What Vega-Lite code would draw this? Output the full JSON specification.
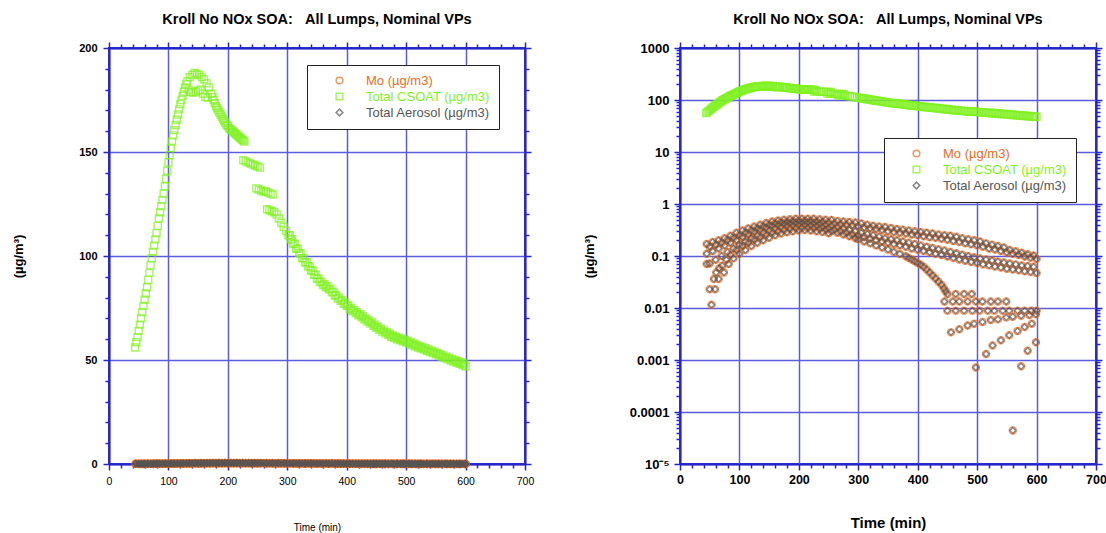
{
  "$schema": "https://vega.github.io/schema/vega-lite/v6.json",
  "background": "white",
  "padding": {"left": 11, "top": 10, "right": 0, "bottom": 0},
  "spacing": 47,
  "datasets": {
    "csoat": [
      {"t":44,"csoat":56},{"t":46,"csoat":58.5},{"t":48,"csoat":61},{"t":50,"csoat":64},{"t":52,"csoat":67},{"t":54,"csoat":70},{"t":56,"csoat":73},{"t":58,"csoat":76},{"t":60,"csoat":79},{"t":62,"csoat":82},{"t":64,"csoat":85},{"t":66,"csoat":88.5},{"t":68,"csoat":92},{"t":70,"csoat":95.5},{"t":72,"csoat":99},{"t":74,"csoat":102},{"t":76,"csoat":105},{"t":78,"csoat":108},{"t":80,"csoat":111},{"t":82,"csoat":114.5},{"t":84,"csoat":118},{"t":86,"csoat":121},{"t":88,"csoat":124},{"t":90,"csoat":127},{"t":92,"csoat":130},{"t":94,"csoat":133.5},{"t":96,"csoat":137},{"t":98,"csoat":141},{"t":100,"csoat":145},{"t":102,"csoat":148.5},{"t":104,"csoat":152},{"t":106,"csoat":155},{"t":108,"csoat":158},{"t":110,"csoat":160.5},{"t":112,"csoat":163},{"t":114,"csoat":165.5},{"t":116,"csoat":168},{"t":118,"csoat":170.5},{"t":120,"csoat":173},{"t":122,"csoat":175},{"t":124,"csoat":177},{"t":126,"csoat":179},{"t":128,"csoat":181},{"t":130,"csoat":182.5},{"t":132,"csoat":184},{"t":136,"csoat":186},{"t":140,"csoat":187},{"t":144,"csoat":188},{"t":148,"csoat":187.5},{"t":152,"csoat":187},{"t":156,"csoat":186},{"t":160,"csoat":185},{"t":164,"csoat":183},{"t":168,"csoat":181},
      {"t":134,"csoat":180},{"t":138,"csoat":179},{"t":142,"csoat":178.5},{"t":146,"csoat":179},{"t":150,"csoat":179.5},{"t":154,"csoat":180},{"t":158,"csoat":178},{"t":162,"csoat":176.5},{"t":166,"csoat":176},
      {"t":172,"csoat":178},{"t":174,"csoat":176.5},{"t":176,"csoat":175},{"t":178,"csoat":173.5},{"t":180,"csoat":172},{"t":182,"csoat":171},{"t":184,"csoat":170},{"t":186,"csoat":169},{"t":188,"csoat":168},{"t":190,"csoat":167},{"t":192,"csoat":166},{"t":194,"csoat":165},{"t":196,"csoat":164},{"t":198,"csoat":163},{"t":200,"csoat":162.5},{"t":202,"csoat":161.5},{"t":204,"csoat":161},{"t":206,"csoat":160.5},{"t":208,"csoat":160},{"t":210,"csoat":159.5},{"t":212,"csoat":159},{"t":214,"csoat":158.5},{"t":216,"csoat":158},{"t":218,"csoat":157.5},{"t":220,"csoat":157},{"t":222,"csoat":156.5},{"t":224,"csoat":156},{"t":226,"csoat":155.5},{"t":228,"csoat":155},
      {"t":226,"csoat":146},{"t":230,"csoat":145.5},{"t":234,"csoat":145},{"t":238,"csoat":144.5},{"t":242,"csoat":144},{"t":246,"csoat":143.5},{"t":250,"csoat":143},{"t":254,"csoat":142.5},
      {"t":248,"csoat":132.5},{"t":252,"csoat":132},{"t":256,"csoat":131.5},{"t":260,"csoat":131},{"t":264,"csoat":131},{"t":268,"csoat":130.5},{"t":272,"csoat":130},{"t":276,"csoat":129.5},
      {"t":266,"csoat":122.5},{"t":270,"csoat":122},{"t":274,"csoat":121.5},{"t":278,"csoat":121},{"t":282,"csoat":120},{"t":286,"csoat":118},{"t":290,"csoat":116},{"t":294,"csoat":114},{"t":298,"csoat":112},
      {"t":302,"csoat":110},{"t":306,"csoat":108},{"t":310,"csoat":106},{"t":315,"csoat":103.5},{"t":320,"csoat":101.5},{"t":325,"csoat":99},{"t":330,"csoat":97},{"t":335,"csoat":95},{"t":340,"csoat":93},{"t":345,"csoat":91},{"t":350,"csoat":89},{"t":355,"csoat":87.5},{"t":360,"csoat":86},{"t":365,"csoat":85},{"t":370,"csoat":84},{"t":375,"csoat":82.5},{"t":380,"csoat":81},{"t":385,"csoat":79.5},{"t":390,"csoat":78.5},{"t":395,"csoat":77},{"t":400,"csoat":76},{"t":405,"csoat":74.5},{"t":410,"csoat":73.5},{"t":415,"csoat":72.5},{"t":420,"csoat":71.5},{"t":425,"csoat":70.5},{"t":430,"csoat":69.5},{"t":435,"csoat":68.5},{"t":440,"csoat":67.5},{"t":445,"csoat":66.5},{"t":450,"csoat":65.5},{"t":455,"csoat":64.5},{"t":460,"csoat":63.5},{"t":465,"csoat":62.8},{"t":470,"csoat":62},{"t":475,"csoat":61.2},{"t":480,"csoat":60.5},{"t":485,"csoat":60},{"t":490,"csoat":59.5},{"t":495,"csoat":59},{"t":500,"csoat":58.5},{"t":505,"csoat":57.8},{"t":510,"csoat":57.2},{"t":515,"csoat":56.6},{"t":520,"csoat":56},{"t":525,"csoat":55.5},{"t":530,"csoat":55},{"t":535,"csoat":54.4},{"t":540,"csoat":53.8},{"t":545,"csoat":53.3},{"t":550,"csoat":52.8},{"t":555,"csoat":52.1},{"t":560,"csoat":51.5},{"t":565,"csoat":50.9},{"t":570,"csoat":50.3},{"t":575,"csoat":49.7},{"t":580,"csoat":49.2},{"t":585,"csoat":48.7},{"t":590,"csoat":48.2},{"t":595,"csoat":47.6},{"t":600,"csoat":47},
      {"t":304,"csoat":110},{"t":308,"csoat":108},{"t":312.5,"csoat":105.8},{"t":317.5,"csoat":103.5},{"t":322.5,"csoat":101.2},{"t":327.5,"csoat":99},{"t":332.5,"csoat":97},{"t":337.5,"csoat":95},{"t":342.5,"csoat":93},{"t":347.5,"csoat":91},{"t":352.5,"csoat":89.2},{"t":357.5,"csoat":87.7},{"t":362.5,"csoat":86.5},{"t":367.5,"csoat":85.5},{"t":372.5,"csoat":84.2},{"t":377.5,"csoat":82.8},{"t":382.5,"csoat":81.2},{"t":387.5,"csoat":80},{"t":392.5,"csoat":78.8},{"t":397.5,"csoat":77.5},{"t":402.5,"csoat":76.2},{"t":407.5,"csoat":75},{"t":412.5,"csoat":74},{"t":417.5,"csoat":73},{"t":422.5,"csoat":72},{"t":427.5,"csoat":71},{"t":432.5,"csoat":70},{"t":437.5,"csoat":69},{"t":442.5,"csoat":68},{"t":447.5,"csoat":67},{"t":452.5,"csoat":66},{"t":457.5,"csoat":65},{"t":462.5,"csoat":64.1},{"t":467.5,"csoat":63.4},{"t":472.5,"csoat":62.6},{"t":477.5,"csoat":61.8},{"t":482.5,"csoat":61.2},{"t":487.5,"csoat":60.7},{"t":492.5,"csoat":60.2},{"t":497.5,"csoat":59.7},{"t":502.5,"csoat":59.1},{"t":507.5,"csoat":58.5},{"t":512.5,"csoat":57.9},{"t":517.5,"csoat":57.3},{"t":522.5,"csoat":56.7},{"t":527.5,"csoat":56.2},{"t":532.5,"csoat":55.7},{"t":537.5,"csoat":55.1},{"t":542.5,"csoat":54.5},{"t":547.5,"csoat":54},{"t":552.5,"csoat":53.4},{"t":557.5,"csoat":52.8},{"t":562.5,"csoat":52.2},{"t":567.5,"csoat":51.6},{"t":572.5,"csoat":51},{"t":577.5,"csoat":50.4},{"t":582.5,"csoat":49.9},{"t":587.5,"csoat":49.4},{"t":592.5,"csoat":48.9},{"t":597.5,"csoat":48.3}
    ],
    "aero": [
      {"t":45,"mo":0.17,"aer":0.17},{"t":55,"mo":0.185,"aer":0.185},{"t":65,"mo":0.2,"aer":0.2},{"t":75,"mo":0.22,"aer":0.22},{"t":85,"mo":0.245,"aer":0.245},{"t":95,"mo":0.28,"aer":0.28},{"t":105,"mo":0.31,"aer":0.31},{"t":115,"mo":0.34,"aer":0.34},{"t":125,"mo":0.37,"aer":0.37},{"t":135,"mo":0.4,"aer":0.4},{"t":145,"mo":0.43,"aer":0.43},{"t":155,"mo":0.46,"aer":0.46},{"t":165,"mo":0.48,"aer":0.48},{"t":175,"mo":0.5,"aer":0.5},{"t":185,"mo":0.51,"aer":0.51},{"t":195,"mo":0.52,"aer":0.52},{"t":205,"mo":0.52,"aer":0.52},{"t":215,"mo":0.52,"aer":0.52},{"t":225,"mo":0.52,"aer":0.52},{"t":235,"mo":0.51,"aer":0.51},{"t":245,"mo":0.5,"aer":0.5},{"t":255,"mo":0.49,"aer":0.49},{"t":265,"mo":0.47,"aer":0.47},{"t":275,"mo":0.46,"aer":0.46},{"t":285,"mo":0.45,"aer":0.45},{"t":295,"mo":0.44,"aer":0.44},{"t":305,"mo":0.42,"aer":0.42},{"t":315,"mo":0.4,"aer":0.4},{"t":325,"mo":0.38,"aer":0.38},{"t":335,"mo":0.37,"aer":0.37},{"t":345,"mo":0.36,"aer":0.36},{"t":355,"mo":0.345,"aer":0.345},{"t":365,"mo":0.33,"aer":0.33},{"t":375,"mo":0.32,"aer":0.32},{"t":385,"mo":0.31,"aer":0.31},{"t":395,"mo":0.3,"aer":0.3},{"t":405,"mo":0.29,"aer":0.29},{"t":415,"mo":0.28,"aer":0.28},{"t":425,"mo":0.27,"aer":0.27},{"t":435,"mo":0.26,"aer":0.26},{"t":445,"mo":0.25,"aer":0.25},{"t":455,"mo":0.245,"aer":0.245},{"t":465,"mo":0.235,"aer":0.235},{"t":475,"mo":0.22,"aer":0.22},{"t":485,"mo":0.21,"aer":0.21},{"t":495,"mo":0.2,"aer":0.2},{"t":505,"mo":0.19,"aer":0.19},{"t":515,"mo":0.175,"aer":0.175},{"t":525,"mo":0.165,"aer":0.165},{"t":535,"mo":0.155,"aer":0.155},{"t":545,"mo":0.145,"aer":0.145},{"t":555,"mo":0.13,"aer":0.13},{"t":565,"mo":0.123,"aer":0.123},{"t":575,"mo":0.115,"aer":0.115},{"t":585,"mo":0.108,"aer":0.108},{"t":595,"mo":0.102,"aer":0.102},
      {"t":50,"mo":0.15,"aer":0.15},{"t":60,"mo":0.165,"aer":0.165},{"t":70,"mo":0.18,"aer":0.18},{"t":80,"mo":0.2,"aer":0.2},{"t":90,"mo":0.225,"aer":0.225},{"t":100,"mo":0.25,"aer":0.25},{"t":110,"mo":0.28,"aer":0.28},{"t":120,"mo":0.31,"aer":0.31},{"t":130,"mo":0.34,"aer":0.34},{"t":140,"mo":0.37,"aer":0.37},{"t":150,"mo":0.4,"aer":0.4},{"t":160,"mo":0.42,"aer":0.42},{"t":170,"mo":0.44,"aer":0.44},{"t":180,"mo":0.45,"aer":0.45},{"t":190,"mo":0.46,"aer":0.46},{"t":200,"mo":0.47,"aer":0.47},{"t":210,"mo":0.47,"aer":0.47},{"t":220,"mo":0.47,"aer":0.47},{"t":230,"mo":0.46,"aer":0.46},{"t":240,"mo":0.45,"aer":0.45},{"t":250,"mo":0.44,"aer":0.44},{"t":260,"mo":0.42,"aer":0.42},{"t":270,"mo":0.41,"aer":0.41},{"t":280,"mo":0.4,"aer":0.4},{"t":290,"mo":0.39,"aer":0.39},{"t":300,"mo":0.37,"aer":0.37},{"t":310,"mo":0.355,"aer":0.355},{"t":320,"mo":0.34,"aer":0.34},{"t":330,"mo":0.33,"aer":0.33},{"t":340,"mo":0.315,"aer":0.315},{"t":350,"mo":0.3,"aer":0.3},{"t":360,"mo":0.29,"aer":0.29},{"t":370,"mo":0.28,"aer":0.28},{"t":380,"mo":0.27,"aer":0.27},{"t":390,"mo":0.26,"aer":0.26},{"t":400,"mo":0.25,"aer":0.25},{"t":410,"mo":0.24,"aer":0.24},{"t":420,"mo":0.23,"aer":0.23},{"t":430,"mo":0.225,"aer":0.225},{"t":440,"mo":0.215,"aer":0.215},{"t":450,"mo":0.205,"aer":0.205},{"t":460,"mo":0.195,"aer":0.195},{"t":470,"mo":0.185,"aer":0.185},{"t":480,"mo":0.175,"aer":0.175},{"t":490,"mo":0.168,"aer":0.168},{"t":500,"mo":0.16,"aer":0.16},{"t":510,"mo":0.15,"aer":0.15},{"t":520,"mo":0.14,"aer":0.14},{"t":530,"mo":0.133,"aer":0.133},{"t":540,"mo":0.125,"aer":0.125},{"t":550,"mo":0.117,"aer":0.117},{"t":560,"mo":0.11,"aer":0.11},{"t":570,"mo":0.104,"aer":0.104},{"t":580,"mo":0.098,"aer":0.098},{"t":590,"mo":0.093,"aer":0.093},{"t":600,"mo":0.088,"aer":0.088},
      {"t":45,"mo":0.11,"aer":0.11},{"t":55,"mo":0.125,"aer":0.125},{"t":65,"mo":0.14,"aer":0.14},{"t":75,"mo":0.16,"aer":0.16},{"t":85,"mo":0.18,"aer":0.18},{"t":95,"mo":0.2,"aer":0.2},{"t":105,"mo":0.23,"aer":0.23},{"t":115,"mo":0.26,"aer":0.26},{"t":125,"mo":0.29,"aer":0.29},{"t":135,"mo":0.32,"aer":0.32},{"t":145,"mo":0.35,"aer":0.35},{"t":155,"mo":0.38,"aer":0.38},{"t":165,"mo":0.4,"aer":0.4},{"t":175,"mo":0.42,"aer":0.42},{"t":185,"mo":0.43,"aer":0.43},{"t":195,"mo":0.44,"aer":0.44},{"t":205,"mo":0.44,"aer":0.44},{"t":215,"mo":0.44,"aer":0.44},{"t":225,"mo":0.43,"aer":0.43},{"t":235,"mo":0.42,"aer":0.42},{"t":245,"mo":0.4,"aer":0.4},{"t":255,"mo":0.38,"aer":0.38},{"t":265,"mo":0.36,"aer":0.36},{"t":275,"mo":0.34,"aer":0.34},{"t":285,"mo":0.32,"aer":0.32},{"t":295,"mo":0.3,"aer":0.3},{"t":305,"mo":0.28,"aer":0.28},{"t":315,"mo":0.265,"aer":0.265},{"t":325,"mo":0.25,"aer":0.25},{"t":335,"mo":0.235,"aer":0.235},{"t":345,"mo":0.22,"aer":0.22},{"t":355,"mo":0.21,"aer":0.21},{"t":365,"mo":0.2,"aer":0.2},{"t":375,"mo":0.19,"aer":0.19},{"t":385,"mo":0.18,"aer":0.18},{"t":395,"mo":0.17,"aer":0.17},{"t":405,"mo":0.16,"aer":0.16},{"t":415,"mo":0.15,"aer":0.15},{"t":425,"mo":0.143,"aer":0.143},{"t":435,"mo":0.135,"aer":0.135},{"t":445,"mo":0.128,"aer":0.128},{"t":455,"mo":0.12,"aer":0.12},{"t":465,"mo":0.113,"aer":0.113},{"t":475,"mo":0.106,"aer":0.106},{"t":485,"mo":0.1,"aer":0.1},{"t":495,"mo":0.095,"aer":0.095},{"t":505,"mo":0.09,"aer":0.09},{"t":515,"mo":0.086,"aer":0.086},{"t":525,"mo":0.082,"aer":0.082},{"t":535,"mo":0.078,"aer":0.078},{"t":545,"mo":0.075,"aer":0.075},{"t":555,"mo":0.072,"aer":0.072},{"t":565,"mo":0.069,"aer":0.069},{"t":575,"mo":0.066,"aer":0.066},{"t":585,"mo":0.064,"aer":0.064},{"t":595,"mo":0.062,"aer":0.062},
      {"t":45,"mo":0.07,"aer":0.07},{"t":50,"mo":0.072,"aer":0.072},{"t":60,"mo":0.085,"aer":0.085},{"t":70,"mo":0.1,"aer":0.1},{"t":80,"mo":0.12,"aer":0.12},{"t":90,"mo":0.14,"aer":0.14},{"t":100,"mo":0.165,"aer":0.165},{"t":110,"mo":0.19,"aer":0.19},{"t":120,"mo":0.22,"aer":0.22},{"t":130,"mo":0.25,"aer":0.25},{"t":140,"mo":0.28,"aer":0.28},{"t":150,"mo":0.31,"aer":0.31},{"t":160,"mo":0.34,"aer":0.34},{"t":170,"mo":0.36,"aer":0.36},{"t":180,"mo":0.38,"aer":0.38},{"t":190,"mo":0.39,"aer":0.39},{"t":200,"mo":0.4,"aer":0.4},{"t":210,"mo":0.4,"aer":0.4},{"t":220,"mo":0.39,"aer":0.39},{"t":230,"mo":0.38,"aer":0.38},{"t":240,"mo":0.36,"aer":0.36},{"t":250,"mo":0.34,"aer":0.34},{"t":260,"mo":0.32,"aer":0.32},{"t":270,"mo":0.3,"aer":0.3},{"t":280,"mo":0.28,"aer":0.28},{"t":290,"mo":0.26,"aer":0.26},{"t":300,"mo":0.245,"aer":0.245},{"t":310,"mo":0.23,"aer":0.23},{"t":320,"mo":0.215,"aer":0.215},{"t":330,"mo":0.2,"aer":0.2},{"t":340,"mo":0.19,"aer":0.19},{"t":350,"mo":0.18,"aer":0.18},{"t":360,"mo":0.17,"aer":0.17},{"t":370,"mo":0.16,"aer":0.16},{"t":380,"mo":0.15,"aer":0.15},{"t":390,"mo":0.14,"aer":0.14},{"t":400,"mo":0.132,"aer":0.132},{"t":410,"mo":0.125,"aer":0.125},{"t":420,"mo":0.118,"aer":0.118},{"t":430,"mo":0.11,"aer":0.11},{"t":440,"mo":0.104,"aer":0.104},{"t":450,"mo":0.098,"aer":0.098},{"t":460,"mo":0.092,"aer":0.092},{"t":470,"mo":0.086,"aer":0.086},{"t":480,"mo":0.081,"aer":0.081},{"t":490,"mo":0.077,"aer":0.077},{"t":500,"mo":0.073,"aer":0.073},{"t":510,"mo":0.069,"aer":0.069},{"t":520,"mo":0.066,"aer":0.066},{"t":530,"mo":0.063,"aer":0.063},{"t":540,"mo":0.06,"aer":0.06},{"t":550,"mo":0.057,"aer":0.057},{"t":560,"mo":0.055,"aer":0.055},{"t":570,"mo":0.053,"aer":0.053},{"t":580,"mo":0.051,"aer":0.051},{"t":590,"mo":0.049,"aer":0.049},{"t":600,"mo":0.047,"aer":0.047},
      {"t":50,"mo":0.023,"aer":0.023},{"t":53,"mo":0.0115,"aer":0.0115},{"t":57,"mo":0.036,"aer":0.036},{"t":61,"mo":0.048,"aer":0.048},{"t":66,"mo":0.058,"aer":0.058},{"t":71,"mo":0.065,"aer":0.065},{"t":78,"mo":0.085,"aer":0.085},{"t":85,"mo":0.105,"aer":0.105},{"t":95,"mo":0.13,"aer":0.13},{"t":105,"mo":0.155,"aer":0.155},{"t":115,"mo":0.18,"aer":0.18},{"t":125,"mo":0.205,"aer":0.205},{"t":135,"mo":0.23,"aer":0.23},{"t":145,"mo":0.255,"aer":0.255},{"t":155,"mo":0.28,"aer":0.28},{"t":165,"mo":0.3,"aer":0.3},{"t":175,"mo":0.32,"aer":0.32},{"t":185,"mo":0.335,"aer":0.335},{"t":195,"mo":0.345,"aer":0.345},{"t":205,"mo":0.35,"aer":0.35},{"t":215,"mo":0.35,"aer":0.35},{"t":225,"mo":0.345,"aer":0.345},{"t":235,"mo":0.335,"aer":0.335},{"t":245,"mo":0.32,"aer":0.32},{"t":255,"mo":0.3,"aer":0.3},{"t":265,"mo":0.28,"aer":0.28},{"t":275,"mo":0.26,"aer":0.26},{"t":285,"mo":0.24,"aer":0.24},{"t":295,"mo":0.22,"aer":0.22},{"t":300,"mo":0.21,"aer":0.21},{"t":310,"mo":0.19,"aer":0.19},{"t":320,"mo":0.175,"aer":0.175},{"t":330,"mo":0.16,"aer":0.16},{"t":340,"mo":0.145,"aer":0.145},{"t":350,"mo":0.133,"aer":0.133},{"t":360,"mo":0.12,"aer":0.12},{"t":370,"mo":0.109,"aer":0.109},{"t":380,"mo":0.099,"aer":0.099},{"t":385,"mo":0.092,"aer":0.092},{"t":390,"mo":0.086,"aer":0.086},{"t":395,"mo":0.079,"aer":0.079},{"t":400,"mo":0.073,"aer":0.073},{"t":405,"mo":0.068,"aer":0.068},{"t":410,"mo":0.062,"aer":0.062},{"t":415,"mo":0.055,"aer":0.055},{"t":420,"mo":0.048,"aer":0.048},{"t":425,"mo":0.042,"aer":0.042},{"t":430,"mo":0.037,"aer":0.037},{"t":435,"mo":0.032,"aer":0.032},{"t":440,"mo":0.028,"aer":0.028},{"t":444,"mo":0.024,"aer":0.024},{"t":447,"mo":0.021,"aer":0.021},
      {"t":59,"mo":0.023,"aer":0.023},{"t":65,"mo":0.036,"aer":0.036},{"t":74,"mo":0.048,"aer":0.048},{"t":82,"mo":0.07,"aer":0.07},{"t":90,"mo":0.09,"aer":0.09},{"t":100,"mo":0.11,"aer":0.11},{"t":110,"mo":0.13,"aer":0.13},{"t":120,"mo":0.155,"aer":0.155},{"t":130,"mo":0.18,"aer":0.18},{"t":140,"mo":0.2,"aer":0.2},{"t":150,"mo":0.225,"aer":0.225},{"t":160,"mo":0.25,"aer":0.25},{"t":170,"mo":0.27,"aer":0.27},{"t":180,"mo":0.285,"aer":0.285},{"t":190,"mo":0.3,"aer":0.3},{"t":200,"mo":0.31,"aer":0.31},{"t":210,"mo":0.315,"aer":0.315},{"t":220,"mo":0.31,"aer":0.31},{"t":230,"mo":0.3,"aer":0.3},{"t":240,"mo":0.29,"aer":0.29},{"t":250,"mo":0.275,"aer":0.275},
      {"t":450,"mo":0.0185,"aer":0.0185},{"t":464,"mo":0.0185,"aer":0.0185},{"t":478,"mo":0.0185,"aer":0.0185},{"t":491,"mo":0.0185,"aer":0.0185},
      {"t":445,"mo":0.0134,"aer":0.0134},{"t":459,"mo":0.0134,"aer":0.0134},{"t":470,"mo":0.0134,"aer":0.0134},{"t":484,"mo":0.0134,"aer":0.0134},{"t":498,"mo":0.0134,"aer":0.0134},{"t":509,"mo":0.0134,"aer":0.0134},{"t":523,"mo":0.0134,"aer":0.0134},{"t":535,"mo":0.0134,"aer":0.0134},{"t":549,"mo":0.0134,"aer":0.0134},
      {"t":450,"mo":0.0089,"aer":0.0089},{"t":464,"mo":0.0089,"aer":0.0089},{"t":478,"mo":0.0089,"aer":0.0089},{"t":492,"mo":0.0089,"aer":0.0089},{"t":504,"mo":0.0089,"aer":0.0089},{"t":518,"mo":0.0089,"aer":0.0089},{"t":529,"mo":0.0089,"aer":0.0089},{"t":543,"mo":0.0089,"aer":0.0089},{"t":554,"mo":0.0089,"aer":0.0089},{"t":568,"mo":0.0089,"aer":0.0089},{"t":580,"mo":0.0089,"aer":0.0089},{"t":591,"mo":0.0089,"aer":0.0089},{"t":600,"mo":0.0089,"aer":0.0089},
      {"t":456,"mo":0.0034,"aer":0.0034},{"t":470,"mo":0.0039,"aer":0.0039},{"t":484,"mo":0.0046,"aer":0.0046},{"t":495,"mo":0.005,"aer":0.005},{"t":509,"mo":0.0054,"aer":0.0054},{"t":523,"mo":0.0059,"aer":0.0059},{"t":535,"mo":0.0061,"aer":0.0061},{"t":549,"mo":0.0066,"aer":0.0066},{"t":560,"mo":0.0068,"aer":0.0068},{"t":574,"mo":0.0071,"aer":0.0071},{"t":588,"mo":0.0073,"aer":0.0073},{"t":599,"mo":0.0076,"aer":0.0076},
      {"t":498,"mo":0.00072,"aer":0.00072},{"t":515,"mo":0.0013,"aer":0.0013},{"t":526,"mo":0.0019,"aer":0.0019},{"t":540,"mo":0.0024,"aer":0.0024},{"t":554,"mo":0.003,"aer":0.003},{"t":568,"mo":0.0036,"aer":0.0036},{"t":580,"mo":0.0043,"aer":0.0043},{"t":592,"mo":0.005,"aer":0.005},
      {"t":574,"mo":0.00076,"aer":0.00076},{"t":585,"mo":0.0015,"aer":0.0015},{"t":599,"mo":0.0022,"aer":0.0022},
      {"t":560,"mo":0.000044,"aer":0.000044}
    ]
  },
  "hconcat": [
    {
      "width": 416,
      "height": 416,
      "title": {"text": "Kroll No NOx SOA:\u00a0\u00a0\u00a0All Lumps, Nominal VPs", "offset": 14},
      "layer": [
        {
          "data": {"name": "aero"},
          "mark": {"type": "point", "filled": false, "size": 50, "strokeWidth": 1.4},
          "encoding": {
            "x": {"field": "t", "type": "quantitative", "scale": {"domain": [0, 700], "nice": false, "zero": false},
              "axis": {"orient": "bottom", "values": [0,20,40,60,80,100,120,140,160,180,200,220,240,260,280,300,320,340,360,380,400,420,440,460,480,500,520,540,560,580,600,620,640,660,680,700],
                "labelExpr": "datum.value % 100 === 0 ? datum.label : ''", "labelOverlap": false, "labelFlush": false,
                "grid": true, "gridOpacity": {"condition": {"test": "datum.value % 100 === 0", "value": 1}, "value": 0},
                "tickSize": {"condition": {"test": "datum.value % 100 === 0", "value": 6}, "value": 4},
                "encode": {"ticks": {"update": {"y": {"signal": "datum.value % 100 === 0 ? -6 : -4"}}}},
                "labelFontSize": 10.5, "labelFontWeight": "normal", "labelPadding": 6,
                "title": "Time (min)", "titleFontSize": 10, "titleFontWeight": "normal", "titlePadding": 36}},
            "y": {"field": "mo", "type": "quantitative", "scale": {"domain": [0, 200], "nice": false},
              "axis": {"orient": "left", "values": [0,10,20,30,40,50,60,70,80,90,100,110,120,130,140,150,160,170,180,190,200],
                "labelExpr": "datum.value % 50 === 0 ? datum.label : ''", "labelOverlap": false, "labelFlush": false,
                "grid": true, "gridOpacity": {"condition": {"test": "datum.value % 50 === 0", "value": 1}, "value": 0},
                "tickSize": {"condition": {"test": "datum.value % 50 === 0", "value": 6}, "value": 4},
                "encode": {"ticks": {"update": {"x": {"signal": "datum.value % 50 === 0 ? 6 : 4"}}}},
                "labelFontSize": 11, "labelFontWeight": "bold", "labelPadding": 6,
                "title": "(µg/m³)", "titleFontSize": 13, "titleFontWeight": "bold", "titleAngle": -90, "titleX": -91, "titleY": 208, "titleAlign": "center", "titleBaseline": "middle"}},
            "color": {"datum": "Mo (µg/m3)", "scale": {"domain": ["Mo (µg/m3)", "Total CSOAT (µg/m3)", "Total Aerosol (µg/m3)"], "range": ["#f26a1b", "#7ff21f", "#555555"]},
              "legend": {"title": null, "orient": "none", "legendX": 198, "legendY": 17}},
            "shape": {"datum": "Mo (µg/m3)", "scale": {"domain": ["Mo (µg/m3)", "Total CSOAT (µg/m3)", "Total Aerosol (µg/m3)"], "range": ["circle", "square", "diamond"]},
              "legend": {"title": null, "orient": "none", "legendX": 198, "legendY": 17}}
          }
        },
        {
          "data": {"name": "csoat"},
          "mark": {"type": "point", "filled": false, "size": 49, "strokeWidth": 1.4},
          "encoding": {
            "x": {"field": "t", "type": "quantitative",
              "axis": {"orient": "top", "values": [0,20,40,60,80,100,120,140,160,180,200,220,240,260,280,300,320,340,360,380,400,420,440,460,480,500,520,540,560,580,600,620,640,660,680,700],
                "labels": false, "grid": false, "title": null,
                "tickSize": {"condition": {"test": "datum.value % 100 === 0", "value": 6}, "value": 4},
                "encode": {"ticks": {"update": {"y": {"signal": "datum.value % 100 === 0 ? 6 : 4"}}}}}},
            "y": {"field": "csoat", "type": "quantitative",
              "axis": {"orient": "right", "values": [0,10,20,30,40,50,60,70,80,90,100,110,120,130,140,150,160,170,180,190,200],
                "labels": false, "grid": false, "title": null,
                "tickSize": {"condition": {"test": "datum.value % 50 === 0", "value": 6}, "value": 4},
                "encode": {"ticks": {"update": {"x": {"signal": "datum.value % 50 === 0 ? -6 : -4"}}}}}},
            "color": {"datum": "Total CSOAT (µg/m3)"},
            "shape": {"datum": "Total CSOAT (µg/m3)"}
          }
        },
        {
          "data": {"name": "aero"},
          "mark": {"type": "point", "filled": false, "size": 36, "strokeWidth": 1.4},
          "encoding": {
            "x": {"field": "t", "type": "quantitative", "axis": null},
            "y": {"field": "aer", "type": "quantitative", "axis": null},
            "color": {"datum": "Total Aerosol (µg/m3)"},
            "shape": {"datum": "Total Aerosol (µg/m3)"}
          }
        }
      ],
      "resolve": {"axis": {"x": "independent", "y": "independent"}}
    },
    {
      "width": 416,
      "height": 416,
      "title": {"text": "Kroll No NOx SOA:\u00a0\u00a0\u00a0All Lumps, Nominal VPs", "offset": 14},
      "layer": [
        {
          "data": {"name": "aero"},
          "mark": {"type": "point", "filled": false, "size": 50, "strokeWidth": 1.4},
          "encoding": {
            "x": {"field": "t", "type": "quantitative", "scale": {"domain": [0, 700], "nice": false, "zero": false},
              "axis": {"orient": "bottom", "values": [0,20,40,60,80,100,120,140,160,180,200,220,240,260,280,300,320,340,360,380,400,420,440,460,480,500,520,540,560,580,600,620,640,660,680,700],
                "labelExpr": "datum.value % 100 === 0 ? datum.label : ''", "labelOverlap": false, "labelFlush": false,
                "grid": true, "gridOpacity": {"condition": {"test": "datum.value % 100 === 0", "value": 1}, "value": 0},
                "tickSize": {"condition": {"test": "datum.value % 100 === 0", "value": 6}, "value": 4},
                "encode": {"ticks": {"update": {"y": {"signal": "datum.value % 100 === 0 ? -6 : -4"}}}},
                "labelFontSize": 12.5, "labelFontWeight": "bold", "labelPadding": 3,
                "title": "Time (min)", "titleFontSize": 15, "titleFontWeight": "bold", "titlePadding": 30}},
            "y": {"field": "mo", "type": "quantitative", "scale": {"type": "log", "domain": [0.00001, 1000], "nice": false},
              "axis": {"orient": "left", "values": [0.00001,0.00002,0.00003,0.00004,0.00005,0.00006,0.00007,0.00008,0.00009,0.0001,0.0002,0.0003,0.0004,0.0005,0.0006,0.0007,0.0008,0.0009,0.001,0.002,0.003,0.004,0.005,0.006,0.007,0.008,0.009,0.01,0.02,0.03,0.04,0.05,0.06,0.07,0.08,0.09,0.1,0.2,0.3,0.4,0.5,0.6,0.7,0.8,0.9,1,2,3,4,5,6,7,8,9,10,20,30,40,50,60,70,80,90,100,200,300,400,500,600,700,800,900,1000],
                "labelExpr": "abs(log(datum.value)/LN10 - round(log(datum.value)/LN10)) > 0.001 ? '' : datum.value < 0.00002 ? '10⁻⁵' : datum.value >= 1 ? format(datum.value, 'd') : format(datum.value, '.' + (-round(log(datum.value)/LN10)) + 'f')",
                "labelOverlap": false, "labelFlush": false,
                "grid": true, "gridOpacity": {"condition": {"test": "abs(log(datum.value)/LN10 - round(log(datum.value)/LN10)) < 0.001", "value": 1}, "value": 0},
                "tickSize": {"condition": {"test": "abs(log(datum.value)/LN10 - round(log(datum.value)/LN10)) < 0.001", "value": 6}, "value": 4},
                "encode": {"ticks": {"update": {"x": {"signal": "abs(log(datum.value)/LN10 - round(log(datum.value)/LN10)) < 0.001 ? 6 : 4"}}}},
                "labelFontSize": 13, "labelFontWeight": "bold", "labelPadding": 5,
                "title": "(µg/m³)", "titleFontSize": 13, "titleFontWeight": "bold", "titleAngle": -90, "titleX": -91, "titleY": 208, "titleAlign": "center", "titleBaseline": "middle"}},
            "color": {"datum": "Mo (µg/m3)", "scale": {"domain": ["Mo (µg/m3)", "Total CSOAT (µg/m3)", "Total Aerosol (µg/m3)"], "range": ["#f26a1b", "#7ff21f", "#555555"]},
              "legend": {"title": null, "orient": "none", "legendX": 204, "legendY": 90}},
            "shape": {"datum": "Mo (µg/m3)", "scale": {"domain": ["Mo (µg/m3)", "Total CSOAT (µg/m3)", "Total Aerosol (µg/m3)"], "range": ["circle", "square", "diamond"]},
              "legend": {"title": null, "orient": "none", "legendX": 204, "legendY": 90}}
          }
        },
        {
          "data": {"name": "csoat"},
          "mark": {"type": "point", "filled": false, "size": 49, "strokeWidth": 1.4},
          "encoding": {
            "x": {"field": "t", "type": "quantitative",
              "axis": {"orient": "top", "values": [0,20,40,60,80,100,120,140,160,180,200,220,240,260,280,300,320,340,360,380,400,420,440,460,480,500,520,540,560,580,600,620,640,660,680,700],
                "labels": false, "grid": false, "title": null,
                "tickSize": {"condition": {"test": "datum.value % 100 === 0", "value": 6}, "value": 4},
                "encode": {"ticks": {"update": {"y": {"signal": "datum.value % 100 === 0 ? 6 : 4"}}}}}},
            "y": {"field": "csoat", "type": "quantitative",
              "axis": {"orient": "right", "values": [0.00001,0.00002,0.00003,0.00004,0.00005,0.00006,0.00007,0.00008,0.00009,0.0001,0.0002,0.0003,0.0004,0.0005,0.0006,0.0007,0.0008,0.0009,0.001,0.002,0.003,0.004,0.005,0.006,0.007,0.008,0.009,0.01,0.02,0.03,0.04,0.05,0.06,0.07,0.08,0.09,0.1,0.2,0.3,0.4,0.5,0.6,0.7,0.8,0.9,1,2,3,4,5,6,7,8,9,10,20,30,40,50,60,70,80,90,100,200,300,400,500,600,700,800,900,1000],
                "labels": false, "grid": false, "title": null,
                "tickSize": {"condition": {"test": "abs(log(datum.value)/LN10 - round(log(datum.value)/LN10)) < 0.001", "value": 6}, "value": 4},
                "encode": {"ticks": {"update": {"x": {"signal": "abs(log(datum.value)/LN10 - round(log(datum.value)/LN10)) < 0.001 ? -6 : -4"}}}}}},
            "color": {"datum": "Total CSOAT (µg/m3)"},
            "shape": {"datum": "Total CSOAT (µg/m3)"}
          }
        },
        {
          "data": {"name": "aero"},
          "mark": {"type": "point", "filled": false, "size": 36, "strokeWidth": 1.4},
          "encoding": {
            "x": {"field": "t", "type": "quantitative", "axis": null},
            "y": {"field": "aer", "type": "quantitative", "axis": null},
            "color": {"datum": "Total Aerosol (µg/m3)"},
            "shape": {"datum": "Total Aerosol (µg/m3)"}
          }
        }
      ],
      "resolve": {"axis": {"x": "independent", "y": "independent"}}
    }
  ],
  "resolve": {"scale": {"color": "independent", "shape": "independent"}, "legend": {"color": "independent", "shape": "independent"}},
  "config": {
    "font": "Liberation Sans",
    "view": {"stroke": "#2424c8", "strokeWidth": 2},
    "title": {"fontSize": 14.5, "fontWeight": "bold", "font": "Liberation Sans", "color": "black", "anchor": "middle"},
    "axis": {"domainColor": "#2424c8", "domainWidth": 2, "tickColor": "#2424c8", "tickWidth": 1.5, "gridColor": "#5b5be0", "gridWidth": 1.5, "labelColor": "black", "titleColor": "black", "labelFont": "Liberation Sans", "titleFont": "Liberation Sans"},
    "legend": {"strokeColor": "#222222", "fillColor": "white", "padding": 9, "labelFont": "Liberation Sans", "labelFontSize": 13, "symbolStrokeWidth": 1.5, "symbolSize": 45, "rowPadding": 2, "symbolOffset": 17, "labelOffset": 20,
      "labelColor": {"expr": "datum.value === 'Mo (µg/m3)' ? '#f26a1b' : datum.value === 'Total CSOAT (µg/m3)' ? '#7ff21f' : '#555555'"}}
  }
}
